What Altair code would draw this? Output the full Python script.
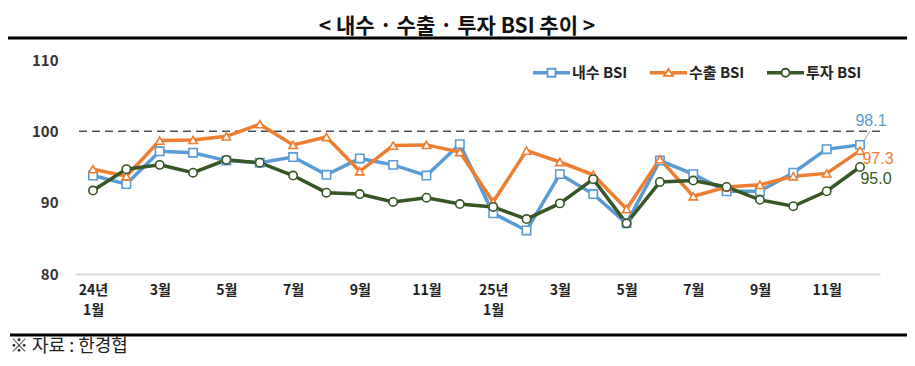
import json
import altair as alt
import pandas as pd

# ---------------- data ----------------
months = ["24년\n1월", "2월", "3월", "4월", "5월", "6월", "7월", "8월", "9월", "10월", "11월", "12월",
          "25년\n1월", "2월", "3월", "4월", "5월", "6월", "7월", "8월", "9월", "10월", "11월", "12월"]
series_names = ["내수 BSI", "수출 BSI", "투자 BSI"]
domestic = [93.8, 92.6, 97.2, 97.0, 95.9, 95.6, 96.4, 93.9, 96.2, 95.3, 93.8, 98.2,
            88.5, 86.1, 94.0, 91.2, 87.1, 95.9, 94.0, 91.6, 91.6, 94.2, 97.5, 98.1]
export = [94.7, 93.7, 98.7, 98.8, 99.3, 101.0, 98.1, 99.2, 94.4, 98.0, 98.1, 97.1,
          90.1, 97.3, 95.7, 93.9, 89.1, 96.1, 90.9, 92.2, 92.5, 93.7, 94.1, 97.3]
invest = [91.7, 94.7, 95.3, 94.2, 96.0, 95.6, 93.8, 91.4, 91.2, 90.1, 90.7, 89.8,
          89.4, 87.7, 89.9, 93.3, 87.1, 92.9, 93.1, 92.2, 90.4, 89.5, 91.6, 95.0]
ref_level = [100]
title_text = "< 내수 · 수출 · 투자 BSI 추이 >"
source_text = "※ 자료 : 한경협"

colors = ["#5B9BD5", "#ED7D31", "#375623"]
label_colors = ["#5B9BD5", "#ED7D31", "#375623"]
shapes = ["square", "triangle-up", "circle"]
stub = "M-4.4,-0.22H-1.05V0.22H-4.4ZM1.05,-0.22H4.4V0.22H1.05Z"
legend_paths = [
    stub + "M-1,-1H1V1H-1Z",
    stub + "M0,-0.95L1.15,0.8H-1.15Z",
    stub + "M1,0A1,1,0,1,1,-1,0A1,1,0,1,1,1,0Z",
]

rows = []
for name, vals in zip(series_names, [domestic, export, invest]):
    for i, v in enumerate(vals):
        rows.append({"idx": i, "value": v, "series": name})
df = pd.DataFrame(rows)

FONT = "Noto Sans CJK KR"
NUM_FONT = "Liberation Sans Narrow, Liberation Sans, sans-serif"

W, H = 805, 214

label_expr = "split(" + json.dumps(months, ensure_ascii=False) + "[datum.value], '\\n')"

x_enc = alt.X(
    "idx:Q",
    scale=alt.Scale(domain=[-0.54, 23.6], nice=False, zero=False),
    axis=alt.Axis(
        values=list(range(0, 24, 2)), labelExpr=label_expr, grid=False, ticks=False,
        domainColor="#d9d9d9", domainWidth=2, labelFont=FONT, labelFontSize=14,
        labelFontWeight="bold", labelColor="#222222", labelPadding=9, labelLineHeight=20,
        labelFlush=False, labelOverlap=False, labelBaseline="top", title=None,
    ),
)
y_enc = alt.Y(
    "value:Q",
    scale=alt.Scale(domain=[80, 110], nice=False, zero=False),
    axis=alt.Axis(
        values=[80, 90, 100, 110], grid=False, ticks=False, domain=False,
        labelFont=FONT, labelFontSize=15, labelFontWeight="bold", labelColor="#333333",
        labelPadding=17, title=None,
    ),
)

base = alt.Chart(df)

ref = alt.Chart(pd.DataFrame({"y": ref_level})).mark_rule(
    strokeDash=[8, 5], color="#4a4f57", strokeWidth=1.5
).encode(y=alt.Y("y:Q", scale=alt.Scale(domain=[80, 110], nice=False)))

line_layers = []
point_layers = []
for name, col, shp in zip(series_names, colors, shapes):
    sub = base.transform_filter(alt.datum.series == name)
    line_layers.append(
        sub.mark_line(strokeWidth=3.5, color=col).encode(x=x_enc, y=y_enc, order=alt.Order("idx:Q"))
    )
    point_layers.append(
        sub.mark_point(shape=shp, filled=True, fill="white", stroke=col, strokeWidth=1.6,
                       size=70, opacity=1).encode(x=x_enc, y=y_enc)
    )

leg = dict(title=None, orient="none", legendX=455, legendY=5, direction="horizontal",
           symbolSize=64, symbolStrokeWidth=1.8, symbolOffset=14, labelOffset=13,
           labelFont=FONT, labelFontSize=15, labelFontWeight="bold", labelColor="#222222",
           columnPadding=19, symbolOpacity=1)

legend_layer = base.mark_point(filled=False, strokeWidth=1.8, opacity=0).encode(
    x=x_enc, y=y_enc,
    color=alt.Color("series:N", scale=alt.Scale(domain=series_names, range=colors),
                    legend=alt.Legend(**leg)),
    shape=alt.Shape("series:N", scale=alt.Scale(domain=series_names, range=legend_paths),
                    legend=alt.Legend(**leg)),
)

# end labels
offsets = [(11, -24), (18, 8.5), (16, 11.5)]
label_layers = []
for name, col, (dx, dy) in zip(series_names, label_colors, offsets):
    label_layers.append(
        base.transform_filter((alt.datum.series == name) & (alt.datum.idx == len(months) - 1))
        .mark_text(dx=dx, dy=dy, font=NUM_FONT, fontSize=16, color=col, align="center", baseline="middle")
        .encode(x=x_enc, y=y_enc, text=alt.Text("value:Q", format=".1f"))
    )

leader = base.transform_filter(
    (alt.datum.series == series_names[0]) & (alt.datum.idx == len(months) - 1)
).mark_rule(color="#a0a0a0", strokeWidth=1, xOffset=4, yOffset=-4, x2Offset=10, y2Offset=-14).encode(
    x=x_enc, y=y_enc, x2="idx:Q", y2="value:Q"
)

# decoration: title, separator rules, source
deco = alt.Chart(pd.DataFrame({"t": [title_text]}))
title_mark = deco.mark_text(font=FONT, fontSize=21, fontWeight="bold", color="#111111",
                            align="center", baseline="middle").encode(
    text="t:N", x=alt.value(382), y=alt.value(-33))
top_rule = deco.mark_rule(color="#000000", strokeWidth=3).encode(
    x=alt.value(-67), x2=alt.value(832), y=alt.value(-22))
bottom_rule = deco.mark_rule(color="#000000", strokeWidth=3).encode(
    x=alt.value(-65), x2=alt.value(832), y=alt.value(275))
source_mark = alt.Chart(pd.DataFrame({"t": [source_text]})).mark_text(
    font=FONT, fontSize=18, color="#222222", align="left", baseline="middle").encode(
    text="t:N", x=alt.value(-65), y=alt.value(287))

chart = alt.layer(
    ref, *line_layers, *point_layers, leader, *label_layers, legend_layer,
    title_mark, top_rule, bottom_rule, source_mark,
).properties(
    width=W, height=H,
    autosize=alt.AutoSizeParams(type="none"),
    padding={"left": 67, "top": 52, "right": 27, "bottom": 84},
).configure_view(stroke=None)

chart.save("out.html", embed_options={"renderer": "svg", "actions": False})
